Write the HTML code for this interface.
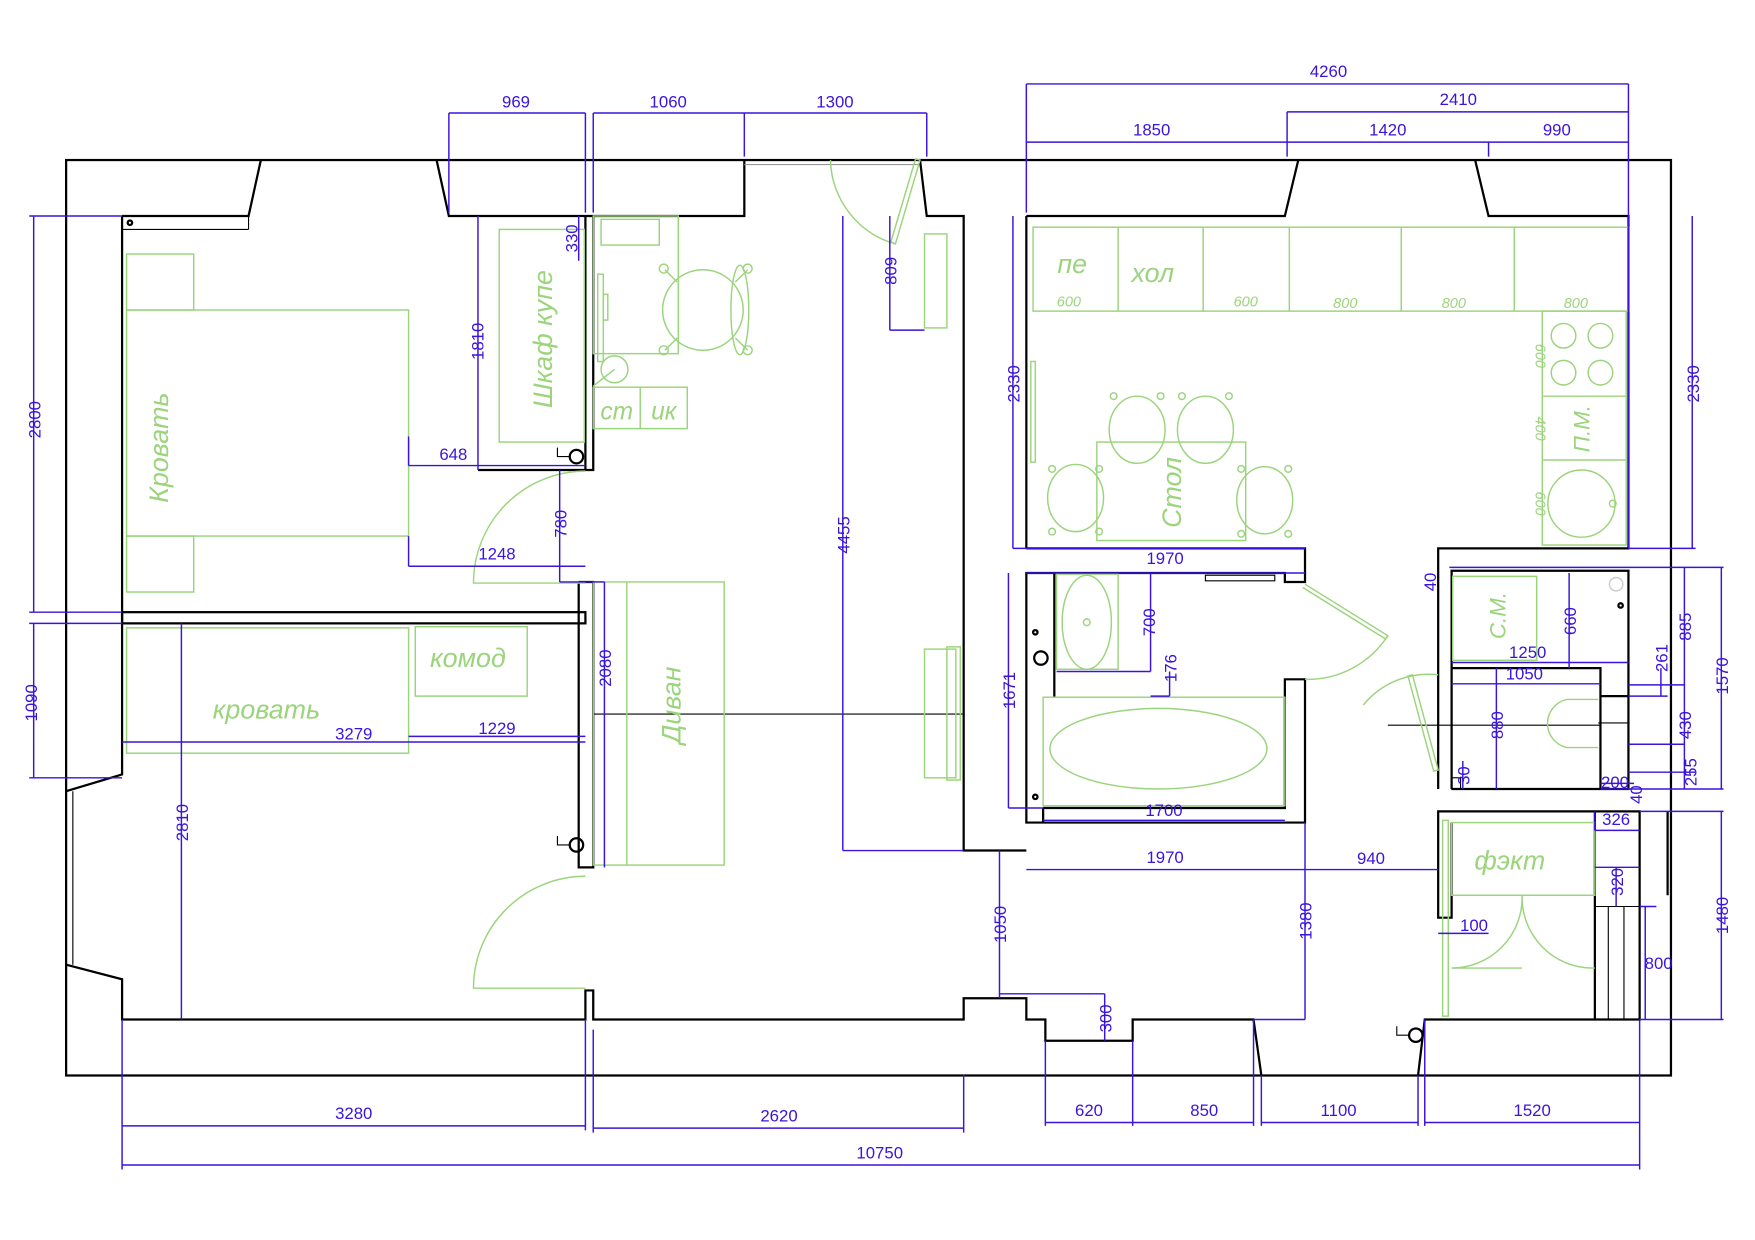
<!DOCTYPE html>
<html><head><meta charset="utf-8"><style>html,body{margin:0;padding:0;background:#fff}svg{display:block}</style></head>
<body>
<svg width="1755" height="1240" viewBox="0 0 1568 1108" xmlns="http://www.w3.org/2000/svg" font-family="Liberation Sans, sans-serif">
<rect width="1568" height="1108" fill="#fff"/>
<!-- walls -->
<g fill="none" stroke="#000" stroke-width="2">
<rect x="59" y="143" width="1434" height="818"/>
<polyline points="109,193 222,193 233,143"/>
<line x1="109" y1="205" x2="222" y2="205" stroke-width="1"/>
<line x1="222" y1="193" x2="222" y2="205" stroke-width="1"/>
<polyline points="390,143 401,193 665,193 665,143"/>
<line x1="665" y1="147" x2="822" y2="147" stroke="#999" stroke-width="1"/>
<polyline points="822,143 828,193 861,193 861,760 917,760"/>
<polyline points="917,193 1148,193 1160,143"/>
<polyline points="1318,143 1330,193 1455,193 1455,490 1285,490 1285,705"/>
<polyline points="109,193 109,692 59,707"/>
<line x1="65" y1="707" x2="65" y2="862" stroke-width="1"/>
<polyline points="59,862 109,875 109,911 523,911 523,885 530,885 530,911 861,911 861,892 917,892 917,911 934,911 934,930 1012,930 1012,911 1120,911 1127,961"/>
<polyline points="1267,961 1273,911 1465,911 1465,725 1285,725 1285,820 1297,820 1297,735"/>
<line x1="1425" y1="725" x2="1425" y2="911"/>
<line x1="1437" y1="810" x2="1437" y2="911" stroke-width="1"/>
<line x1="1451" y1="810" x2="1451" y2="911" stroke-width="1"/>
<line x1="1425" y1="810" x2="1465" y2="810" stroke-width="1"/>
<line x1="1490" y1="725" x2="1490" y2="800"/>
<line x1="917" y1="193" x2="917" y2="490"/>
<!-- bedroom partitions -->
<rect x="109" y="547" width="414" height="10"/>
<polyline points="427,193 427,193"/>
<polyline points="523,193 523,420 530,420 530,193"/>
<polyline points="517,520 530,520 530,775 517,775 517,520"/>
<polyline points="523,420 427,420"/>
<!-- kitchen bottom / bathroom -->
<polyline points="917,490 1166,490 1166,520 1148,520 1148,512 917,512 917,735 1166,735 1166,607 1148,607 1148,722 932,722"/>
<line x1="942" y1="512" x2="942" y2="623"/>
<rect x="1077" y="514" width="62" height="5" stroke-width="1"/>
<line x1="932" y1="722" x2="932" y2="735"/>
<!-- toilet block -->
<polyline points="1297,705 1297,510 1455,510 1455,705 1297,705"/>
<polyline points="1297,597 1430,597 1430,705"/>
<line x1="1430" y1="622" x2="1455" y2="622"/>
<line x1="1428" y1="646" x2="1455" y2="646" stroke-width="1"/>
<line x1="1240" y1="648" x2="1430" y2="648" stroke-width="1"/>
<line x1="530" y1="638" x2="861" y2="638" stroke-width="1"/>
<rect x="1297" y="695" width="8" height="10" stroke-width="1"/>
<circle cx="515" cy="408" r="6"/><polyline points="509,408 498,408 498,400" stroke-width="1"/>
<circle cx="515" cy="755" r="6"/><polyline points="509,755 498,755 498,747" stroke-width="1"/>
<circle cx="1265" cy="925" r="6"/><polyline points="1259,925 1248,925 1248,917" stroke-width="1"/>
<circle cx="930" cy="588" r="6"/>
<circle cx="116" cy="199" r="2"/><circle cx="925" cy="565" r="2"/><circle cx="925" cy="712" r="2"/><circle cx="1448" cy="541" r="2"/>
</g>
<!-- furniture -->
<g fill="none" stroke="#9bd47c" stroke-width="1.3">
<rect x="113" y="277" width="252" height="202"/>
<rect x="113" y="227" width="60" height="50"/>
<rect x="113" y="479" width="60" height="50"/>
<rect x="113" y="561" width="252" height="112"/>
<rect x="371" y="560" width="100" height="62"/>
<rect x="446" y="205" width="76" height="190"/>
<rect x="530" y="193" width="76" height="123"/>
<rect x="537" y="196" width="52" height="23"/>
<rect x="534" y="245" width="5" height="78"/><rect x="539" y="263" width="4" height="23"/>
<circle cx="549" cy="330" r="12"/><line x1="530" y1="345" x2="549" y2="330"/>
<circle cx="628" cy="277" r="36"/>
<ellipse cx="661" cy="277" rx="8" ry="40"/>
<line x1="605" y1="252" x2="594" y2="241"/><circle cx="593" cy="240" r="4"/>
<line x1="605" y1="302" x2="594" y2="313"/><circle cx="593" cy="313" r="4"/>
<line x1="657" y1="252" x2="668" y2="241"/><circle cx="668" cy="240" r="4"/>
<line x1="657" y1="302" x2="668" y2="313"/><circle cx="668" cy="313" r="4"/>
<rect x="530" y="346" width="84" height="37"/><line x1="572" y1="346" x2="572" y2="383"/>
<rect x="530" y="520" width="117" height="253"/><line x1="560" y1="520" x2="560" y2="773"/>
<rect x="826" y="209" width="20" height="84"/>
<rect x="826" y="580" width="28" height="115"/><rect x="846" y="578" width="12" height="119"/>
<rect x="923" y="203" width="532" height="75"/>
<line x1="999" y1="203" x2="999" y2="278"/><line x1="1075" y1="203" x2="1075" y2="278"/><line x1="1152" y1="203" x2="1152" y2="278"/><line x1="1252" y1="203" x2="1252" y2="278"/><line x1="1353" y1="203" x2="1353" y2="278"/>
<rect x="1378" y="278" width="75" height="209"/><line x1="1378" y1="354" x2="1453" y2="354"/><line x1="1378" y1="411" x2="1453" y2="411"/>
<circle cx="1397" cy="300" r="11"/><circle cx="1430" cy="300" r="11"/><circle cx="1397" cy="333" r="11"/><circle cx="1430" cy="333" r="11"/>
<circle cx="1413" cy="450" r="30"/><circle cx="1441" cy="450" r="3"/>
<rect x="921" y="323" width="4" height="90"/>
<rect x="980" y="395" width="133" height="88"/>
<ellipse cx="1016" cy="384" rx="25" ry="30"/><ellipse cx="1077" cy="384" rx="25" ry="30"/>
<ellipse cx="961" cy="445" rx="25" ry="30"/><ellipse cx="1130" cy="447" rx="25" ry="30"/>
<circle cx="995" cy="354" r="3"/><circle cx="1037" cy="354" r="3"/><circle cx="1056" cy="354" r="3"/><circle cx="1098" cy="354" r="3"/>
<circle cx="940" cy="419" r="3"/><circle cx="982" cy="419" r="3"/><circle cx="1109" cy="419" r="3"/><circle cx="1151" cy="419" r="3"/>
<circle cx="940" cy="475" r="3"/><circle cx="982" cy="475" r="3"/><circle cx="1109" cy="477" r="3"/><circle cx="1151" cy="477" r="3"/>
<rect x="944" y="513" width="55" height="85"/><ellipse cx="971" cy="556" rx="22" ry="42"/><circle cx="971" cy="556" r="3"/>
<rect x="932" y="623" width="216" height="97"/><ellipse cx="1035" cy="669" rx="97" ry="36"/>
<path d="M523 421 A100 100 0 0 0 423 521 L523 521"/>
<path d="M523 783 A100 100 0 0 0 423 883 L523 883"/>
<path d="M742 143 A80 80 0 0 0 800 218"/><path d="M800 218 L822 143 L818 142 L796 216 Z"/>
<path d="M1166 522 L1240 568 L1238 571 L1164 525"/><path d="M1240 568 A85 85 0 0 1 1166 607"/>
<path d="M1218 630 A75 75 0 0 1 1285 603"/><path d="M1262 603 L1285 688 L1281 689 L1258 604 Z"/>
<rect x="1298" y="515" width="75" height="75"/>
<path d="M1428 625 L1400 625 A22 22 0 0 0 1400 668 L1428 668"/>
<rect x="1297" y="735" width="128" height="65"/>
<line x1="1297" y1="800" x2="1425" y2="800"/>
<path d="M1297 865 A63 63 0 0 0 1360 800 A63 63 0 0 0 1423 865 L1425 865"/>
<line x1="1297" y1="865" x2="1360" y2="865"/>
<rect x="1289" y="733" width="5" height="175"/>
<circle cx="1444" cy="522" r="6" stroke="#ccc"/>
</g>
<g fill="#9bd47c" font-style="italic" font-size="24" text-anchor="middle">
<text transform="translate(150,400) rotate(-90)">Кровать</text>
<text x="238" y="642">кровать</text>
<text x="418" y="596">комод</text>
<text transform="translate(493,303) rotate(-90)">Шкаф купе</text>
<text x="551" y="375" font-size="22">ст</text><text x="593" y="375" font-size="22">ик</text>
<text transform="translate(608,630) rotate(-90)">Диван</text>
<text x="958" y="244">пе</text><text x="1030" y="252">хол</text>
<text transform="translate(1055,440) rotate(-90)">Стол</text>
<text transform="translate(1345,550) rotate(-90)" font-size="20">С.М.</text>
<text transform="translate(1420,383) rotate(-90)" font-size="20">П.М.</text>
<text x="1349" y="777">фэкт</text>
<g font-size="13"><text x="955" y="274">600</text><text x="1113" y="274">600</text><text x="1202" y="275">800</text><text x="1299" y="275">800</text><text x="1408" y="275">800</text>
<text transform="translate(1372,318) rotate(90)">600</text><text transform="translate(1372,383) rotate(90)">400</text><text transform="translate(1372,450) rotate(90)">600</text></g>
</g>
<!-- dimensions -->
<g stroke="#3a14dc" stroke-width="1.3" fill="none">
<path d="M401 101H523M401 101V190M523 101V190M530 101H665M530 101V190M665 101H828M665 101V140M828 101V140"/>
<path d="M917 75H1455M917 75V190M1455 75V490M1150 100H1455M1150 100V140M917 127H1455M1330 127V140"/>
<path d="M365 416H523M365 390V416M365 506H523M365 479V506M427 193V420M517 193V233M500 420V520M500 520H540"/>
<path d="M30 193V547M26 193H109M26 547H109M30 557V695M26 557H109M26 695H109"/>
<path d="M162 557V911M109 663H523M365 658H523M540 520V775"/>
<path d="M753 193V760M753 760H861M795 193V295M795 295H826"/>
<path d="M905 193V490M905 490H917M1512 193V490M1455 490H1515"/>
<path d="M917 490H1166M917 512H1166M932 733H1148M917 777H1285M1166 735V911M1120 911H1166"/>
<path d="M901 512V722M901 722H932M1028 512V600M944 600H1028M1045 600V622M1028 622H1045"/>
<path d="M893 760V892M893 888H987M987 888V930"/>
<path d="M1297 592H1455M1297 611H1430M1402 512V597M1337 597V705M1307 680V705"/>
<path d="M1505 507V705M1295 507H1540M1538 507V705M1484 597V622M1455 612H1505M1455 622H1490M1455 665H1505M1455 690H1515M1430 700H1460M1430 705H1540"/>
<path d="M1425 742H1465M1425 725V742M1444 775V810M1425 775H1465M1470 810V911M1465 810H1480M1538 725V911M1465 725H1540M1465 911H1540M1285 834H1330"/>
<path d="M109 1006H523M109 911V1045M523 911V1010M530 1008H861M530 920V1012M861 960V1012"/>
<path d="M934 1003H1120M934 930V1006M1012 930V1006M1120 911V1006M1127 1003H1267M1127 961V1006M1267 961V1006M1273 1003H1465M1273 911V1006M1465 911V1045M109 1041H1465"/>
</g>
<g fill="#3a14dc" font-size="15" text-anchor="middle">
<text x="461" y="96">969</text><text x="597" y="96">1060</text><text x="746" y="96">1300</text>
<text x="1187" y="69">4260</text><text x="1303" y="94">2410</text><text x="1029" y="121">1850</text><text x="1240" y="121">1420</text><text x="1391" y="121">990</text>
<text x="405" y="411">648</text><text x="444" y="500">1248</text><text x="316" y="661">3279</text><text x="444" y="656">1229</text>
<text x="1041" y="504">1970</text><text x="1040" y="729">1700</text><text x="1041" y="771">1970</text><text x="1225" y="772">940</text>
<text x="1365" y="588">1250</text><text x="1362" y="607">1050</text><text x="1444" y="737">326</text><text x="1317" y="832">100</text><text x="1443" y="704">200</text>
<text x="316" y="1000">3280</text><text x="696" y="1002">2620</text><text x="973" y="997">620</text><text x="1076" y="997">850</text><text x="1196" y="997">1100</text><text x="1369" y="997">1520</text><text x="786" y="1035">10750</text>
<text x="1482" y="866">800</text>
<g>
<text transform="translate(36,375) rotate(-90)">2800</text><text transform="translate(33,628) rotate(-90)">1090</text>
<text transform="translate(432,305) rotate(-90)">1810</text><text transform="translate(516,213) rotate(-90)">330</text>
<text transform="translate(506,468) rotate(-90)">780</text><text transform="translate(168,735) rotate(-90)">2810</text>
<text transform="translate(546,597) rotate(-90)">2080</text><text transform="translate(759,478) rotate(-90)">4455</text>
<text transform="translate(801,242) rotate(-90)">809</text><text transform="translate(911,343) rotate(-90)">2330</text>
<text transform="translate(1518,343) rotate(-90)">2330</text><text transform="translate(907,617) rotate(-90)">1671</text>
<text transform="translate(1032,556) rotate(-90)">700</text><text transform="translate(1051,597) rotate(-90)">176</text>
<text transform="translate(899,826) rotate(-90)">1050</text><text transform="translate(993,910) rotate(-90)">300</text>
<text transform="translate(1172,823) rotate(-90)">1380</text><text transform="translate(1283,520) rotate(-90)">40</text>
<text transform="translate(1408,555) rotate(-90)">660</text><text transform="translate(1343,648) rotate(-90)">880</text>
<text transform="translate(1313,693) rotate(-90)">30</text><text transform="translate(1511,560) rotate(-90)">885</text>
<text transform="translate(1490,588) rotate(-90)">261</text><text transform="translate(1511,648) rotate(-90)">430</text>
<text transform="translate(1516,690) rotate(-90)">255</text><text transform="translate(1544,604) rotate(-90)">1570</text>
<text transform="translate(1450,788) rotate(-90)">320</text><text transform="translate(1544,818) rotate(-90)">1480</text>
<text transform="translate(1467,710) rotate(-90)">40</text>
</g>
</g>
</svg>
</body></html>
